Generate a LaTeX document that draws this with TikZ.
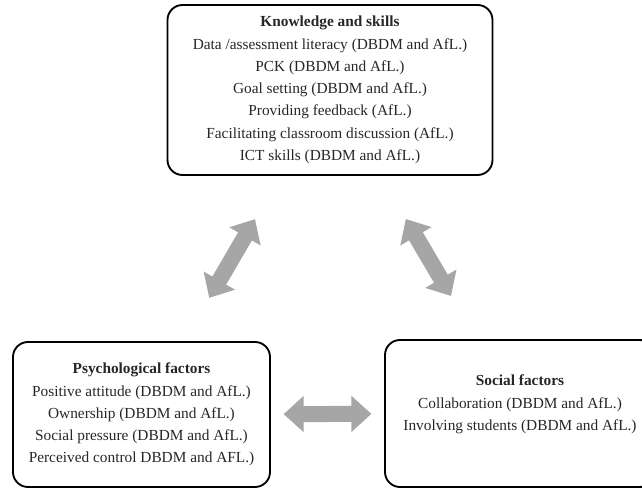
\documentclass[tikz,border=0pt]{standalone}
\usepackage{fontspec}
\setmainfont{Liberation Serif}
\usepackage{tikz}
\usetikzlibrary{arrows.meta}
\definecolor{arrowgray}{RGB}{166,166,166}
\tikzset{
  box/.style={draw=black, line width=1.6pt, rounded corners=0.45cm, align=center, text=black!85, font=\fontsize{13.1pt}{19pt}\selectfont},
  boxtext/.style={align=center, text=black!85, font=\fontsize{13.1pt}{19pt}\selectfont},
  twoway/.style={draw=arrowgray, line width=0.48cm, {Triangle[length=0.6cm,width=1.05cm]}-{Triangle[length=0.6cm,width=1.05cm]}}
}

\begin{document}
\begin{tikzpicture}
\useasboundingbox (0,0) rectangle (19.26,14.7);

\node[box, minimum width=9.75cm, minimum height=5.1cm] (know) at (9.9,12.0) {\textbf{Knowledge and skills}\\Data /assessment literacy (DBDM and AfL.)\\PCK (DBDM and AfL.)\\Goal setting (DBDM and AfL.)\\Providing feedback (AfL.)\\Facilitating classroom discussion (AfL.)\\ICT skills (DBDM and AfL.)};

\node[box, minimum width=7.71cm, minimum height=4.35cm] (psych) at (4.245,2.265) {\textbf{Psychological factors}\\Positive attitude (DBDM and AfL.)\\Ownership (DBDM and AfL.)\\Social pressure (DBDM and AfL.)\\Perceived control DBDM and AFL.)};

\node[box, minimum width=8.1cm, minimum height=4.41cm] (social) at (15.6,2.295) {};
\node[boxtext] (socialtext) at (15.6,2.565) {\textbf{Social factors}\\Collaboration (DBDM and AfL.)\\Involving students (DBDM and AfL.)};

\draw[twoway, shorten <=1.5cm, shorten >=1.5cm] (know) -- (psych);
\draw[twoway, shorten <=1.5cm, shorten >=1.5cm] (know) -- (social);
\draw[twoway, shorten <=0.38cm, shorten >=0.38cm] (psych) -- (social);
\end{tikzpicture}
\end{document}
